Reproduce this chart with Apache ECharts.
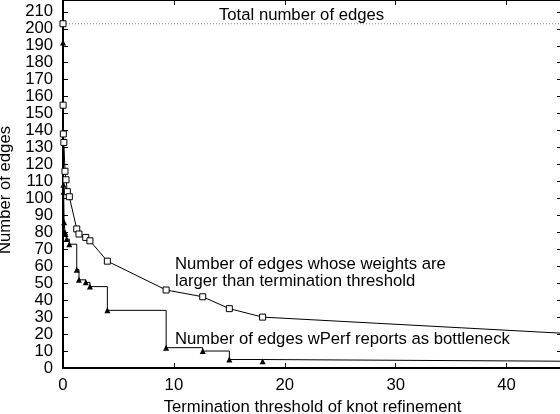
<!DOCTYPE html>
<html><head><meta charset="utf-8">
<script src="https://cdn.jsdelivr.net/npm/echarts@6/dist/echarts.min.js"></script>
<style>html,body{margin:0;padding:0;background:#fff}#c{width:560px;height:414px}</style>
</head><body><div id="c"></div>
<script>
// Data
const thresholdsLarger = [0, 0.01, 0.03, 0.08, 0.18, 0.27, 0.39, 0.57, 1.24, 1.44, 2.05, 2.43, 4.0, 9.3, 12.6, 15.0, 18.0, 45];
const edgesLarger      = [203, 155, 138, 133, 116, 111, 104, 101, 82, 79, 77, 75, 63, 46, 42, 35, 30, 20.5];
const thresholdsBottleneck = [0, 0.02, 0.04, 0.06, 0.1, 0.18, 0.22, 0.33, 0.57, 1.24, 1.44, 2.05, 2.43, 4.0, 9.3, 12.6, 15.0, 18.0, 45];
const edgesBottleneck      = [192, 139, 108, 104, 86, 80, 79, 76, 73, 58, 52, 50.5, 48, 34, 12, 10, 5, 4, 4];
const totalEdges = 203;
const xRange = [0, 45];
const yRange = [0, 217];
const tickStep = 10;

const FONT = '"Liberation Sans", Arial, Helvetica, sans-serif';
const FS = 16.7;
const chart = echarts.init(document.getElementById('c'), null, {renderer: 'canvas'});

function pts(xs, ys, lastHidden) {
  return xs.map((x, i) => {
    const d = {value: [x, ys[i]]};
    if (lastHidden && i === xs.length - 1) d.symbol = 'none';
    return d;
  });
}
const tickFmt = v => (Math.abs(v % tickStep) < 1e-9 ? String(v) : '');

const axisCommon = {
  type: 'value', interval: tickStep,
  axisLine: {show: true, onZero: false, lineStyle: {color: '#000', width: 2}},
  axisTick: {show: true, inside: true, length: 5, lineStyle: {color: '#000', width: 1}},
  splitLine: {show: false}
};

chart.setOption({
  animation: false,
  backgroundColor: '#fff',
  grid: {left: 63, right: -2, top: 0, bottom: 46, containLabel: false, outerBoundsMode: 'none'},
  xAxis: [
    Object.assign({}, axisCommon, {
      min: xRange[0], max: xRange[1], position: 'bottom',
      axisLabel: {color: '#000', fontSize: FS, fontFamily: FONT, margin: 9, formatter: tickFmt},
      name: 'Termination threshold of knot refinement', nameLocation: 'middle', nameGap: 20,
      nameTextStyle: {color: '#000', fontSize: FS, fontFamily: FONT}
    }),
    Object.assign({}, axisCommon, {
      min: xRange[0], max: xRange[1], position: 'top', axisLabel: {show: false}
    })
  ],
  yAxis: [
    Object.assign({}, axisCommon, {
      min: yRange[0], max: yRange[1], position: 'left',
      axisLabel: {color: '#000', fontSize: FS, fontFamily: FONT, margin: 10, formatter: tickFmt},
      name: 'Number of edges', nameLocation: 'middle', nameGap: 39,
      nameTextStyle: {color: '#000', fontSize: FS, fontFamily: FONT, padding: [0, 12, 0, 0]}
    }),
    Object.assign({}, axisCommon, {
      min: yRange[0], max: yRange[1], position: 'right', axisLabel: {show: false}
    })
  ],
  series: [
    {
      name: 'Total number of edges', type: 'line', xAxisIndex: 0, yAxisIndex: 0,
      data: [[xRange[0], totalEdges], [xRange[1], totalEdges]],
      symbol: 'none', lineStyle: {color: '#888', width: 1, type: [1, 2]}, z: 1, silent: true
    },
    {
      name: 'Larger than threshold', type: 'line', xAxisIndex: 0, yAxisIndex: 0,
      data: pts(thresholdsLarger, edgesLarger, true),
      symbol: 'rect', symbolSize: 6, showAllSymbol: true,
      lineStyle: {color: '#000', width: 1},
      itemStyle: {color: '#fff', borderColor: '#000', borderWidth: 1}, z: 3
    },
    {
      name: 'Bottleneck', type: 'line', step: 'end', xAxisIndex: 0, yAxisIndex: 0,
      data: pts(thresholdsBottleneck, edgesBottleneck, true),
      symbol: 'triangle', symbolSize: 6, showAllSymbol: true,
      lineStyle: {color: '#000', width: 1},
      itemStyle: {color: '#000'}, z: 2
    }
  ],
  graphic: [
    {type: 'text', x: 219, y: 15, style: {text: 'Total number of edges', font: FS + 'px ' + FONT, fill: '#000', verticalAlign: 'middle'}},
    {type: 'text', x: 175, y: 264, style: {text: 'Number of edges whose weights are', font: FS + 'px ' + FONT, fill: '#000', verticalAlign: 'middle'}},
    {type: 'text', x: 175, y: 281, style: {text: 'larger than termination threshold', font: FS + 'px ' + FONT, fill: '#000', verticalAlign: 'middle'}},
    {type: 'text', x: 175, y: 339, style: {text: 'Number of edges wPerf reports as bottleneck', font: FS + 'px ' + FONT, fill: '#000', verticalAlign: 'middle'}}
  ]
});
</script></body></html>
